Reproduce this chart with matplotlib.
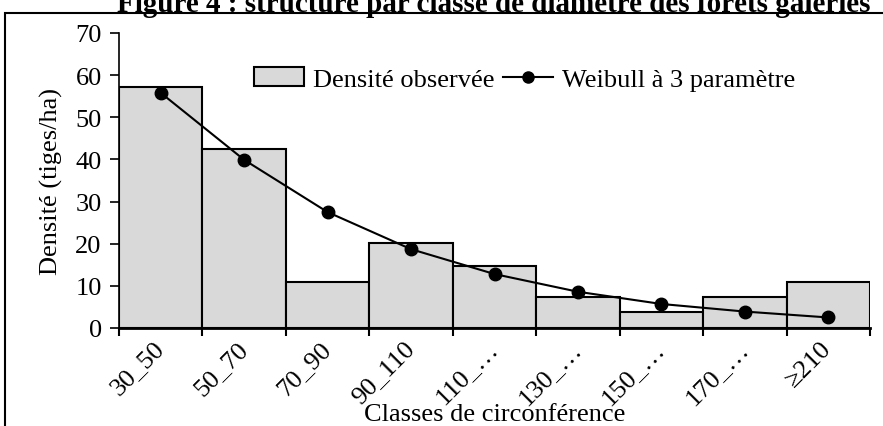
import numpy as np
import matplotlib
matplotlib.use("Agg")
import matplotlib.pyplot as plt
from matplotlib.patches import Rectangle, Patch
from matplotlib.lines import Line2D

# Diameter class structure of gallery forests
classes = ["30_50", "50_70", "70_90", "90_110", "110_…", "130_…", "150_…", "170_…", "≥210"]
observed = [57.3, 42.5, 11.0, 20.2, 14.6, 7.3, 3.7, 7.3, 11.0]
weibull = [55.8, 39.9, 27.5, 18.7, 12.8, 8.6, 5.7, 3.9, 2.5]

plt.rcParams['font.family'] = ['Liberation Serif', 'DejaVu Serif']
FS = 19

fig = plt.figure(figsize=(8.83, 4.27), dpi=100)
ax = fig.add_axes([119/883, 1 - 329/427, 751/883, 295/427])

x = np.arange(len(classes))
ax.bar(x, observed, width=1.0, color="#d9d9d9", edgecolor="black", linewidth=1.5)
ax.plot(x, weibull, color="black", linewidth=1.5, marker="o", markersize=9)

ax.set_xlim(-0.5, len(classes) - 0.5)
ax.set_ylim(0, 70)
ax.set_yticks(range(0, 71, 10))

# ticks on class boundaries, labels on class centres
ax.set_xticks(np.arange(-0.5, len(classes)), labels=[])
ax.set_xticks(x, minor=True)
ax.set_xticklabels(classes, minor=True, rotation=45, ha="right", va="center",
                   rotation_mode="anchor", fontsize=FS)
ax.tick_params(axis="x", which="major", length=6, width=1.5, direction="out")
ax.tick_params(axis="x", which="minor", length=0, pad=12)
ax.tick_params(axis="y", length=6.5, width=1.2, labelsize=FS, pad=6)

for s in ["top", "right"]:
    ax.spines[s].set_visible(False)
ax.spines["bottom"].set_linewidth(2)
ax.spines["left"].set_linewidth(1.2)

ax.set_xlabel("Classes de circonférence", fontsize=FS)
ax.xaxis.set_label_coords(0.5, (329 - 404) / 295)
ax.set_ylabel("Densité (tiges/ha)", fontsize=FS, labelpad=9)

handles = [Patch(facecolor="#d9d9d9", edgecolor="black", linewidth=1.5),
           Line2D([], [], color="black", linewidth=1.5, marker="o", markersize=8)]
ax.legend(handles, ["Densité observée", "Weibull à 3 paramètre"], ncol=2,
          loc="center left", bbox_to_anchor=(0.148, 0.844), frameon=False,
          fontsize=FS, handlelength=1.9, handletextpad=0.35, columnspacing=0.3)

# chart frame and cropped title
fig.patches.append(Rectangle((5/883, -0.1), 1.0, 1 - 14/427 + 0.1,
                             transform=fig.transFigure, fill=False,
                             edgecolor="black", linewidth=1.5))
fig.text(494/883, 1 - 12/427, "Figure 4 : structure par classe de diamètre des forêts galeries",
         ha="center", va="baseline", fontsize=21, fontweight="bold")

fig.savefig("out.png", dpi=100)
